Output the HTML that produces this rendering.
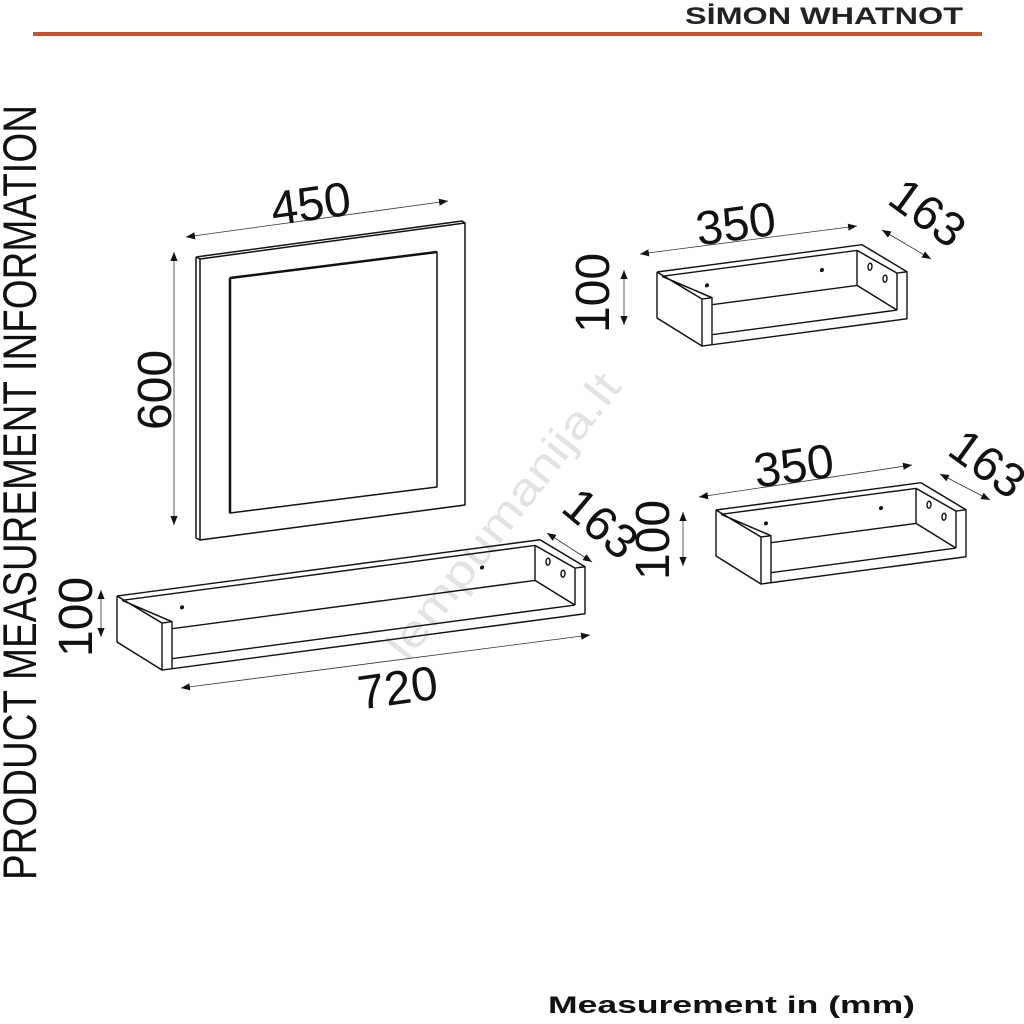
<!DOCTYPE html>
<html><head><meta charset="utf-8"><style>html,body{margin:0;padding:0;background:#fff}svg{display:block}</style></head><body>
<svg width="1024" height="1024" viewBox="0 0 1024 1024" xmlns="http://www.w3.org/2000/svg">
<defs>
<marker id="a" viewBox="0 0 10 10" refX="10" refY="5" markerWidth="9" markerHeight="9" orient="auto-start-reverse" markerUnits="userSpaceOnUse"><path d="M0,1 L10,5 L0,9 z" fill="#111"/></marker>
</defs>
<rect width="1024" height="1024" fill="#fff"/>
<text x="963" y="24" text-anchor="end" font-family="Liberation Sans, sans-serif" font-weight="bold" font-size="24" textLength="278" lengthAdjust="spacingAndGlyphs" fill="#222">SİMON WHATNOT</text>
<rect x="33" y="32" width="949" height="4" fill="#c8502d"/>
<text transform="translate(36,880) rotate(-90)" font-family="Liberation Sans, sans-serif" font-size="47" textLength="775" lengthAdjust="spacingAndGlyphs" fill="#111">PRODUCT MEASUREMENT INFORMATION</text>
<text x="548" y="1013" font-family="Liberation Sans, sans-serif" font-weight="bold" font-size="24" textLength="367" lengthAdjust="spacingAndGlyphs" fill="#111">Measurement in (mm)</text>

<text transform="translate(515,525) rotate(-52)" text-anchor="middle" font-family="Liberation Sans, sans-serif" font-size="44" textLength="350" lengthAdjust="spacingAndGlyphs" fill="#e2e2e2">lempumanija.lt</text>

<g fill="none" stroke="#111" stroke-width="1.5" stroke-linejoin="round">
<path d="M196,257 L462,221 L465,223 M196,257 L200,259 M196,257 V538 L200,540"/>
<path d="M200,259 L465,223 V505 L200,540 Z"/>
<path d="M230,278 L437,252 V487 L230,513 Z"/>
<path d="M230,278 L437,252 M230,278 V513" stroke-width="2.5"/>
</g>

<g fill="none" stroke="#111" stroke-width="1.4" stroke-linejoin="round">
<g transform="matrix(1,-0.133,0,1,657,272)">
<path d="M0,0 H205 M0,0 V46 L45,80 M0,0 L45,33 H55 V80 H45 V33 M5,5 H200 M5,5 L55,33 M55,70 H240 M45,80 H250 V33 H240 V70 M205,0 L250,33 M200,5 L240,33 M200,5 V40 L240,70 M55,40 H200"/>
<ellipse cx="213" cy="23" rx="2" ry="3.5"/><ellipse cx="228" cy="37" rx="2" ry="3.5"/>
<circle cx="50" cy="20" r="1.3" fill="#111"/><circle cx="165" cy="20" r="1.3" fill="#111"/>
</g>
<g transform="matrix(1,-0.133,0,1,716,510)">
<path d="M0,0 H205 M0,0 V46 L45,80 M0,0 L45,33 H55 V80 H45 V33 M5,5 H200 M5,5 L55,33 M55,70 H240 M45,80 H250 V33 H240 V70 M205,0 L250,33 M200,5 L240,33 M200,5 V40 L240,70 M55,40 H200"/>
<ellipse cx="213" cy="23" rx="2" ry="3.5"/><ellipse cx="228" cy="37" rx="2" ry="3.5"/>
<circle cx="50" cy="20" r="1.3" fill="#111"/><circle cx="165" cy="20" r="1.3" fill="#111"/>
</g>
<g transform="matrix(1,-0.133,0,1,117,596)">
<path d="M0,0 H423 M0,0 V46 L45,80 M0,0 L45,33 H55 V80 H45 V33 M5,5 H418 M5,5 L55,33 M55,70 H458 M45,80 H468 V33 H458 V70 M423,0 L468,33 M418,5 L458,33 M418,5 V40 L458,70 M55,40 H418"/>
<ellipse cx="431" cy="23" rx="2" ry="3.5"/><ellipse cx="446" cy="37" rx="2" ry="3.5"/>
<circle cx="65" cy="20" r="1.3" fill="#111"/><circle cx="365" cy="20" r="1.3" fill="#111"/>
</g>
</g>

<g stroke="#333" stroke-width="0.8" fill="none" marker-start="url(#a)" marker-end="url(#a)">
<line x1="186" y1="237" x2="448" y2="201"/>
<line x1="174" y1="252" x2="174" y2="525"/>
<line x1="640" y1="254" x2="857" y2="226"/>
<line x1="882" y1="230" x2="931" y2="259"/>
<line x1="624" y1="270" x2="624" y2="325"/>
<line x1="699" y1="497" x2="912" y2="465"/>
<line x1="940" y1="474" x2="990" y2="500"/>
<line x1="683" y1="512" x2="683" y2="566"/>
<line x1="547" y1="533" x2="592" y2="562"/>
<line x1="101" y1="590" x2="101" y2="637"/>
<line x1="181" y1="688" x2="590" y2="635"/>
</g>

<g font-family="Liberation Sans, sans-serif" font-size="48" fill="#111" text-anchor="middle">
<text transform="translate(313,220) rotate(-8)">450</text>
<text transform="translate(171,390) rotate(-90)">600</text>
<text transform="translate(738,240) rotate(-8)">350</text>
<text transform="translate(918,226) rotate(36)">163</text>
<text transform="translate(609,293) rotate(-90)">100</text>
<text transform="translate(796,482) rotate(-8)">350</text>
<text transform="translate(978,477) rotate(36)">163</text>
<text transform="translate(669,540) rotate(-90)">100</text>
<text transform="translate(590,536) rotate(40)">163</text>
<text transform="translate(92,617) rotate(-90)">100</text>
<text transform="translate(400,704) rotate(-8)">720</text>
</g>
</svg>
</body></html>
